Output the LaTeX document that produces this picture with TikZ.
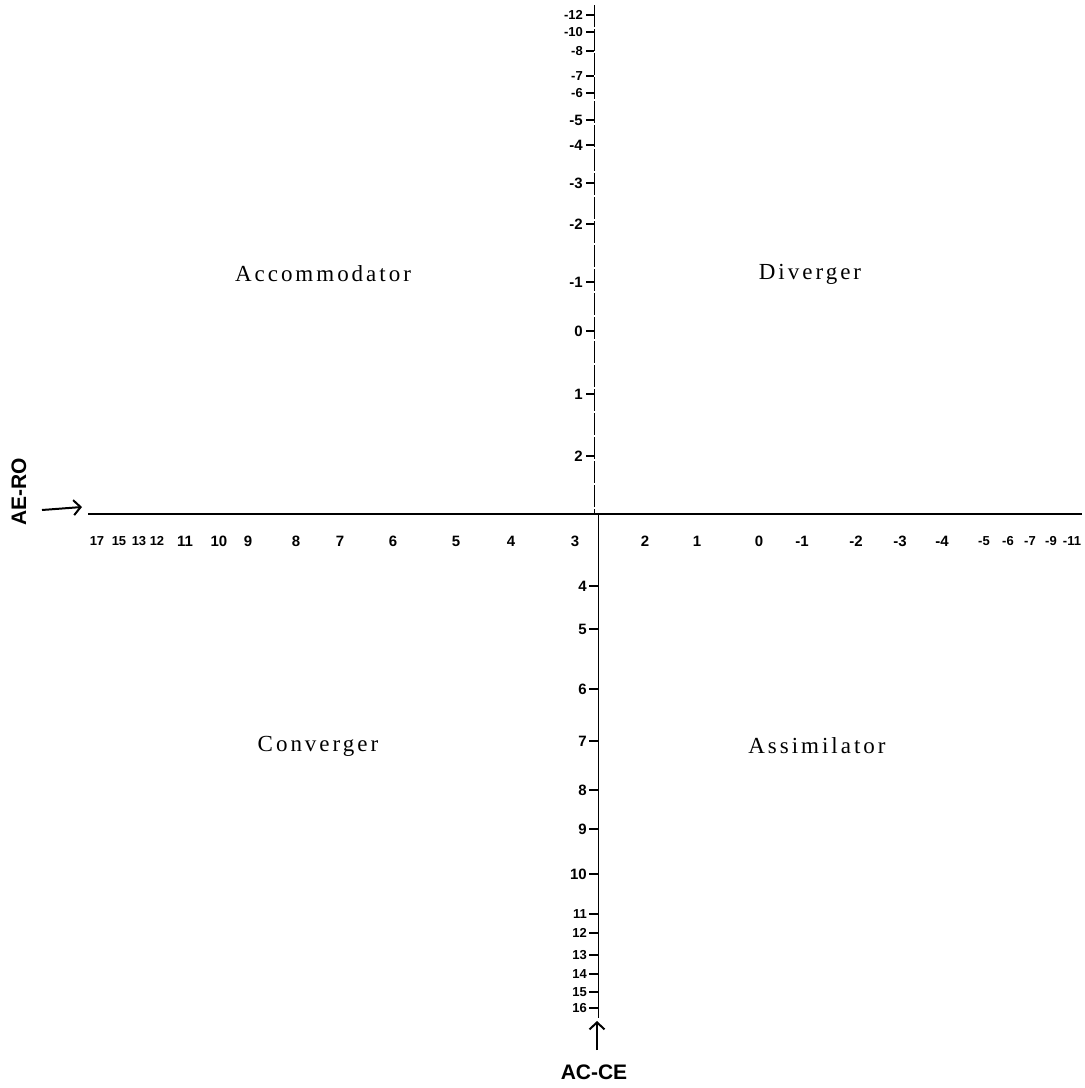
\documentclass[tikz,border=0pt]{standalone}
\usepackage{fontspec}
\setmainfont{Liberation Serif}
\newfontfamily\quadfont[LetterSpace=13]{Liberation Serif}
\newfontfamily\numfont{Liberation Sans}
\usetikzlibrary{arrows.meta}
\begin{document}
\begin{tikzpicture}[x=1pt,y=-1pt,
  quadlabel/.style={font=\quadfont\fontsize{23}{27}\selectfont, inner sep=0pt},
  numlabel/.style={font=\numfont\bfseries\fontsize{15}{18}\selectfont, inner sep=0pt},
  smallnum/.style={font=\numfont\bfseries\fontsize{13}{15}\selectfont, inner sep=0pt},
  vlabel/.style={numlabel, anchor=east},
  vsmall/.style={smallnum, anchor=east},
  axisname/.style={font=\numfont\bfseries\fontsize{21}{24}\selectfont, inner sep=0pt},
  thickaxis/.style={line width=2.6pt},
  thinaxis/.style={line width=1.1pt},
  vaxis/.style={line width=1pt, dash pattern=on 22pt off 2pt},
  tick/.style={line width=1.2pt},
  handarrow/.style={line width=2pt, -{Straight Barb[length=7pt,width=15pt,line width=2pt]}}]
\useasboundingbox (0,0) rectangle (1085,1088);
\fill[white] (0,0) rectangle (1085,1088);

% axis end points
\coordinate (hL) at (88,514);
\coordinate (hA) at (625,514);
\coordinate (hB) at (788,514);
\coordinate (hR) at (1082,514);
\coordinate (vT) at (594,5);
\coordinate (vC) at (594,514);
\coordinate (vC2) at (598,514);
\coordinate (vB) at (598,1018);

% horizontal axis
\draw[thickaxis] (hL) -- (hA);
\draw[thinaxis] (hA) -- (hB);
\draw[thickaxis] (hB) -- (hR);
% vertical axis
\draw[vaxis] (vT) -- (vC);
\draw[line width=1pt] (vC) -- (vC2) -- (vB);

% vertical tick labels and ticks (crowded ones smaller)
\foreach \lab/\yy [count=\i] in {-12/15,-10/32,-8/51,-7/76,-6/93}{
  \node[vsmall] (vt\i) at (583,\yy) {\lab};
  \draw[tick] (586,\yy) -- (594,\yy);
}
\foreach \lab/\yy [count=\i] in {-5/120,-4/145,-3/183,-2/224,-1/282,0/331,1/394,2/456}{
  \node[vlabel] (vu\i) at (583,\yy) {\lab};
  \draw[tick] (586,\yy) -- (594,\yy);
}
\foreach \lab/\yy [count=\i] in {4/586,5/629,6/689,7/741,8/790,9/829,10/874}{
  \node[vlabel] (vd\i) at (587,\yy) {\lab};
  \draw[tick] (589,\yy) -- (598,\yy);
}
\foreach \lab/\yy [count=\i] in {11/914,12/933,13/955,14/974,15/992,16/1008}{
  \node[vsmall] (ve\i) at (587,\yy) {\lab};
  \draw[tick] (589,\yy) -- (598,\yy);
}

% horizontal tick labels (crowded ones smaller)
\foreach \lab/\xx [count=\i] in {17/97,15/119,13/139,12/157}{
  \node[smallnum] (hs\i) at (\xx,541) {\lab};
}
\foreach \lab/\xx [count=\i] in {11/185,10/219,9/248,8/296,7/340,6/393,5/456,4/511,3/575,2/645,1/697,0/759,-1/802,-2/856,-3/900,-4/942}{
  \node[numlabel] (h\i) at (\xx,541) {\lab};
}
\foreach \lab/\xx [count=\i] in {-5/984,-6/1008,-7/1030,-9/1051,-11/1072}{
  \node[smallnum] (hr\i) at (\xx,541) {\lab};
}

% quadrant names
\node[quadlabel] (accom) at (323,274) {Accommodator};
\node[quadlabel] (diver) at (810,274) {Diverger};
\node[quadlabel] (conv) at (318,746) {Converger};
\node[quadlabel] (assim) at (817,746) {Assimilator};

% axis names and arrows
\node[axisname, rotate=90] (aero) at (19,492) {AE-RO};
\coordinate (aeroA) at (42,510);
\coordinate (aeroB) at (82,507);
\draw[handarrow] (aeroA) -- (aeroB);

\node[axisname] (acce) at (594,1072) {AC-CE};
\coordinate (acceA) at (597,1050);
\coordinate (acceB) at (597,1021);
\draw[handarrow] (acceA) -- (acceB);
\end{tikzpicture}
\end{document}
